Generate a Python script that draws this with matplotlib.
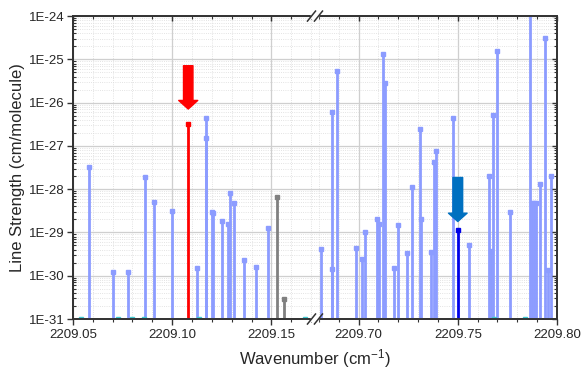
import numpy as np
import matplotlib
matplotlib.use('Agg')
import matplotlib.pyplot as plt
from matplotlib.ticker import FixedLocator, LogLocator, NullFormatter, FuncFormatter

plt.rcParams['font.family'] = ['Liberation Sans', 'DejaVu Sans']
plt.rcParams['mathtext.default'] = 'regular'

# line positions (cm-1) and strengths (cm/molecule)
line_x = [2209.0582, 2209.0700, 2209.0779, 2209.0862, 2209.0910, 2209.1001,
          2209.1127, 2209.1170, 2209.1172, 2209.1200, 2209.1206, 2209.1253,
          2209.1282, 2209.1293, 2209.1313, 2209.1360, 2209.1421, 2209.1482,
          2209.6811, 2209.6865, 2209.6867, 2209.6890, 2209.6989, 2209.7019,
          2209.7033, 2209.7092, 2209.7104, 2209.7122, 2209.7134, 2209.7179,
          2209.7198, 2209.7242, 2209.7270, 2209.7307, 2209.7317, 2209.7366,
          2209.7378, 2209.7391, 2209.7476, 2209.7556, 2209.7657, 2209.7669,
          2209.7680, 2209.7699, 2209.7763, 2209.7865, 2209.7872, 2209.7885,
          2209.7893, 2209.7912, 2209.7942, 2209.7953, 2209.7970]
line_s = [3.3e-28, 1.25e-30, 1.25e-30, 1.95e-28, 5.1e-29, 3.2e-29,
          1.55e-30, 4.4e-27, 1.55e-27, 2.9e-29, 2.8e-29, 1.85e-29,
          1.6e-29, 8.3e-29, 4.9e-29, 2.3e-30, 1.6e-30, 1.25e-29,
          4.1e-30, 6.0e-27, 1.4e-30, 5.5e-26, 4.4e-30, 2.5e-30,
          1.0e-29, 2.05e-29, 1.6e-29, 1.33e-25, 2.8e-26, 1.55e-30,
          1.5e-29, 3.3e-30, 1.1e-28, 2.45e-27, 2.0e-29, 3.6e-30,
          4.2e-28, 7.8e-28, 4.4e-27, 5.1e-30, 2.0e-28, 3.8e-30,
          5.1e-27, 1.55e-25, 2.9e-29, 1.1e-24, 4.7e-29, 4.8e-29,
          4.8e-29, 1.3e-28, 3.05e-25, 1.35e-30, 2.0e-28]
gray_x = [2209.1527, 2209.1564]
gray_s = [6.7e-29, 2.95e-31]
red_x = [2209.1081]
red_s = [3.2e-27]
blue_x = [2209.7500]
blue_s = [1.15e-29]
weak_x = [2209.054, 2209.0727, 2209.0796, 2209.0858, 2209.1135, 2209.167,
          2209.7684, 2209.7840]
weak_s = [1e-31] * len(weak_x)

xticks = [2209.05, 2209.10, 2209.15, 2209.70, 2209.75, 2209.80]
xminor = [2209.06, 2209.07, 2209.08, 2209.09, 2209.11, 2209.12, 2209.13,
          2209.14, 2209.16, 2209.17, 2209.68, 2209.69, 2209.71, 2209.72,
          2209.73, 2209.74, 2209.76, 2209.77, 2209.78, 2209.79]

x0, lo_end, hi_start, x1 = 2209.05, 2209.172, 2209.678, 2209.80
seg = lo_end - x0
mid = (lo_end + hi_start) / 2


def fwd(x):
    x = np.asarray(x, float)
    return np.where(x <= mid, x - x0, x - hi_start + seg)


def inv(p):
    p = np.asarray(p, float)
    return np.where(p <= seg, p + x0, p - seg + hi_start)


c_line = '#8c9cff'
c_txt = '#262626'
c_ax = '#333333'
ymin, ymax = 1e-31, 1e-24

fig = plt.figure(figsize=(5.82, 3.74), dpi=100)
ax = fig.add_axes([0.1254, 0.147, 0.8316, 0.810])
ax.set_xscale('function', functions=(fwd, inv))
ax.set_yscale('log')
ax.set_xlim(x0, x1)
ax.set_ylim(ymin, ymax)

ax.vlines(line_x, ymin, line_s, color=c_line, lw=2.0, zorder=3)
ax.plot(line_x, line_s, 's', ms=3.3, color=c_line, zorder=3)
ax.vlines(gray_x, ymin, gray_s, color='#808080', lw=2.0, zorder=3)
ax.plot(gray_x, gray_s, 's', ms=3.3, color='#808080', zorder=3)
ax.vlines(red_x, ymin, red_s, color='#ff0000', lw=2.0, zorder=4)
ax.plot(red_x, red_s, 's', ms=3.3, color='#ff0000', zorder=4)
ax.vlines(blue_x, ymin, blue_s, color='#0000e8', lw=2.0, zorder=4)
ax.plot(blue_x, blue_s, 's', ms=3.3, color='#0000e8', zorder=4)
ax.plot(weak_x, weak_s, 's', ms=2.2, color='#40c8d0', zorder=3)

# arrows
ax.annotate('', xy=(red_x[0], red_s[0]), xytext=(0, 42), textcoords='offset points',
            arrowprops=dict(arrowstyle='simple,head_width=13.7,head_length=6.2,tail_width=6.8',
                            mutation_scale=1, color='#ff0000', shrinkA=0, shrinkB=10.8))
ax.annotate('', xy=(blue_x[0], blue_s[0]), xytext=(0, 37.7), textcoords='offset points',
            arrowprops=dict(arrowstyle='simple,head_width=13.4,head_length=6.0,tail_width=7.0',
                            mutation_scale=1, color='#0070c0', shrinkA=0, shrinkB=6))

ax.xaxis.set_major_locator(FixedLocator(xticks))
ax.xaxis.set_minor_locator(FixedLocator(xminor))
ax.xaxis.set_major_formatter(FuncFormatter(lambda v, p: f'{v:.2f}'))
ax.xaxis.set_minor_formatter(NullFormatter())
ax.yaxis.set_major_locator(LogLocator(base=10, numticks=20))
ax.yaxis.set_minor_locator(LogLocator(base=10, subs=np.arange(2, 10), numticks=20))
ax.yaxis.set_major_formatter(FuncFormatter(lambda v, p: f'1E{int(round(np.log10(v)))}'))
ax.yaxis.set_minor_formatter(NullFormatter())

ax.grid(which='major', color='#cfcfcf', lw=0.9, ls='-', zorder=0)
ax.grid(which='minor', color='#dadada', lw=0.6, ls=':', zorder=0)
ax.set_axisbelow(True)

ax.tick_params(which='major', direction='out', length=4, width=1, color=c_ax,
               labelsize=9.5, labelcolor=c_txt)
ax.tick_params(axis='y', which='major', pad=2)
ax.tick_params(axis='x', which='minor', direction='out', length=2.5, width=0.8, color=c_ax)
ax.tick_params(axis='y', which='minor', direction='in', length=2.5, width=0.8, color=c_ax)
for s in ax.spines.values():
    s.set_color(c_ax)
    s.set_linewidth(1.1)

ax.set_xlabel('Wavenumber (cm$^{-1}$)', fontsize=12, color=c_txt)
ax.set_ylabel('Line Strength (cm/molecule)', fontsize=12, color=c_txt, labelpad=3)

# mirrored ticks on top and right
ax_t = ax.twiny()
ax_t.set_xscale('function', functions=(fwd, inv))
ax_t.set_xlim(x0, x1)
ax_t.xaxis.set_major_locator(FixedLocator(xticks))
ax_t.xaxis.set_minor_locator(FixedLocator(xminor))
ax_t.tick_params(which='both', direction='in', labeltop=False, color=c_ax)
ax_t.tick_params(which='major', length=3.5, width=1)
ax_t.tick_params(which='minor', length=2, width=0.8)

ax_r = ax.twinx()
ax_r.set_yscale('log')
ax_r.set_ylim(ymin, ymax)
ax_r.yaxis.set_major_locator(LogLocator(base=10, numticks=20))
ax_r.yaxis.set_minor_locator(LogLocator(base=10, subs=np.arange(2, 10), numticks=20))
ax_r.tick_params(which='both', direction='in', labelright=False, color=c_ax)
ax_r.tick_params(which='major', length=3.5, width=1)
ax_r.tick_params(which='minor', length=2.5, width=0.8)
for a in (ax_t, ax_r):
    for s in a.spines.values():
        s.set_color(c_ax)
        s.set_linewidth(1.1)

# axis break marks
bx, dx, dy, hs = 0.5, 0.0083, 0.0165, 0.0072
for yb in (0.0, 1.0):
    ax_r.add_patch(plt.Rectangle((bx - hs, yb - 0.006), 2 * hs, 0.012, transform=ax_r.transAxes,
                                 color='white', clip_on=False, zorder=20))
    for off in (-hs, hs):
        ax_r.plot([bx + off - dx, bx + off + dx], [yb - dy, yb + dy], color=c_ax, lw=1.1,
                  transform=ax_r.transAxes, clip_on=False, zorder=21)

fig.savefig('out.png', dpi=100)
